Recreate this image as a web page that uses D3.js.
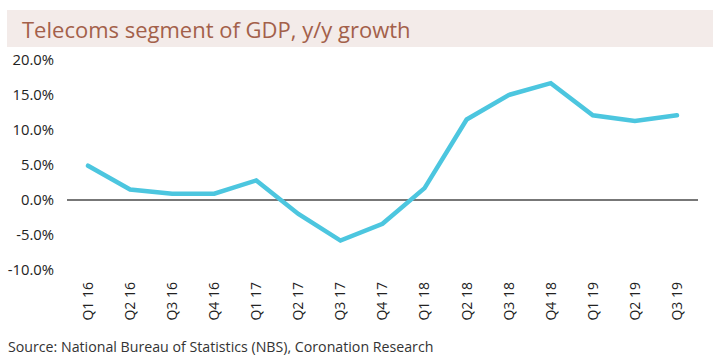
<!DOCTYPE html>
<html><head><meta charset="utf-8">
<script src="https://cdn.jsdelivr.net/npm/d3@7"></script>
<style>body{margin:0;background:#fff}svg{display:block}text{font-family:"Open Sans",sans-serif}</style>
</head><body>
<svg id="c" width="720" height="362"></svg>
<script>
const categories = ["Q1 16","Q2 16","Q3 16","Q4 16","Q1 17","Q2 17","Q3 17","Q4 17","Q1 18","Q2 18","Q3 18","Q4 18","Q1 19","Q2 19","Q3 19"];
const growth = [4.9,1.5,0.9,0.9,2.8,-2.0,-5.8,-3.4,1.7,11.5,15.0,16.7,12.1,11.3,12.1];
const yTicks = [-10,-5,0,5,10,15,20];
const titleText = "Telecoms segment of GDP, y/y growth";
const sourceText = "Source: National Bureau of Statistics (NBS), Coronation Research";

const svg = d3.select("#c");
svg.append("rect").attr("x",7).attr("y",10).attr("width",706).attr("height",37).attr("fill","#f3ebe9");
svg.append("text").attr("x",22).attr("y",38).attr("font-size",22).attr("fill","#a3604a").text(titleText);

const x = d3.scaleBand().domain(categories).range([67,698]);
const y = d3.scaleLinear().domain([-10,20]).range([270,60]);

const yAxis = svg.append("g").attr("transform","translate(54,0)")
  .call(d3.axisLeft(y).tickValues(yTicks).tickFormat(d=>d.toFixed(1)+"%").tickSize(0).tickPadding(0));
yAxis.select(".domain").remove();
yAxis.selectAll("text").attr("font-size",14.8).attr("fill","#222").attr("font-family","Open Sans, sans-serif");

svg.append("line").attr("x1",67).attr("x2",698).attr("y1",y(0)).attr("y2",y(0)).attr("stroke","#777").attr("stroke-width",2);

const xAxis = svg.append("g").attr("transform","translate(0,282)")
  .call(d3.axisBottom(x).tickSize(0).tickPadding(0));
xAxis.select(".domain").remove();
xAxis.selectAll("text").attr("font-size",14).attr("fill","#222").attr("font-family","Open Sans, sans-serif")
  .attr("transform","rotate(-90)").attr("text-anchor","end").attr("dy","0.35em").attr("x",0).attr("y",0);

const line = d3.line().x((d,i)=>x(categories[i])+x.bandwidth()/2).y(d=>y(d));
svg.append("path").datum(growth).attr("d",line).attr("fill","none").attr("stroke","#4cc6df").attr("stroke-width",4.5).attr("stroke-linejoin","miter").attr("stroke-linecap","round");

svg.append("text").attr("x",8).attr("y",352).attr("font-size",14.2).attr("fill","#333").text(sourceText);
</script>
</body></html>
